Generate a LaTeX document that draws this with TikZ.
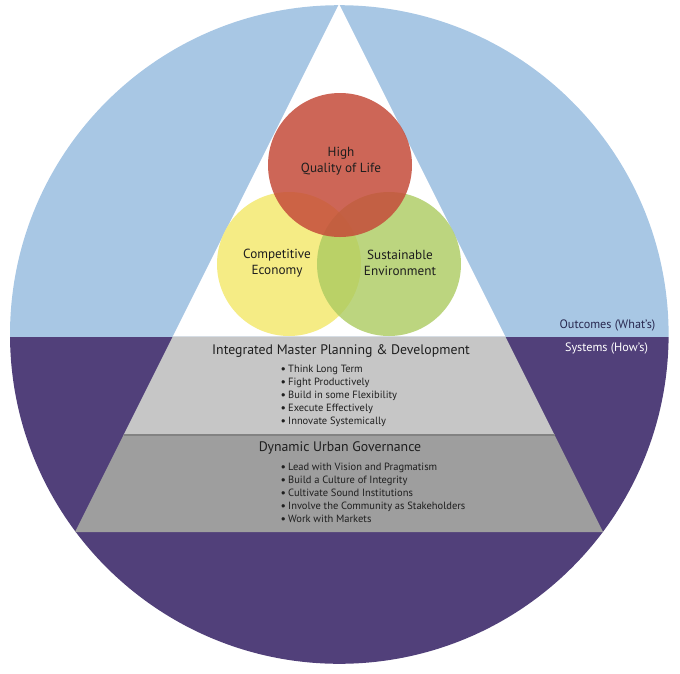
\documentclass[tikz,border=0pt]{standalone}
\usepackage{fontspec}
\setmainfont{PT Sans}
\definecolor{skyblue}{RGB}{168,199,228}
\definecolor{deeppurple}{RGB}{81,64,122}
\definecolor{bandlight}{RGB}{198,198,198}
\definecolor{banddark}{RGB}{158,158,158}
\definecolor{bandline}{RGB}{130,130,130}
\definecolor{redc}{RGB}{197,76,58}
\definecolor{yellowc}{RGB}{245,236,133}
\definecolor{greenc}{RGB}{172,203,96}
\definecolor{inktext}{RGB}{30,30,30}
\definecolor{navytext}{RGB}{40,40,80}
\tikzset{
  venn/.style={circle, minimum size=144pt, inner sep=0pt},
  vlabel/.style={align=center, font=\fontsize{13.2}{16}\selectfont, text=inktext},
  bandhead/.style={font=\fontsize{13.8}{16}\selectfont, text=inktext},
  bulletlist/.style={align=left, anchor=north west, font=\fontsize{10.5}{13}\selectfont, text=inktext, inner sep=0pt},
  sidelabel/.style={font=\fontsize{12.2}{14}\selectfont}
}
\newcommand{\bitem}[1]{\makebox[7pt][l]{\raisebox{0.5pt}{\scalebox{0.8}{$\bullet$}}}#1}
\begin{document}
\begin{tikzpicture}[x=1pt,y=-1pt]
\useasboundingbox (0,0) rectangle (680,673);
% outer circle halves
\begin{scope}
  \clip (339.3,334.5) circle[radius=329.3];
  \fill[skyblue] (0,0) rectangle (680,336.5);
  \fill[deeppurple] (0,336.5) rectangle (680,673);
\end{scope}
% white triangle top
\coordinate (apex) at (339,4);
\fill[white] (apex) -- (172.75,336.5) -- (505.25,336.5) -- cycle;
% bands
\fill[bandlight] (172.75,336.5) -- (505.25,336.5) -- (554.5,435) -- (123.5,435) -- cycle;
\fill[banddark] (123.5,435) -- (554.5,435) -- (603,532) -- (75,532) -- cycle;
\draw[bandline, line width=1.2pt] (123.5,435) -- (554.5,435);
% venn circles
\node[venn, fill=yellowc] (econ) at (289,264) {};
\node[venn, fill=greenc, fill opacity=0.8] (env) at (389,264) {};
\node[venn, fill=redc, fill opacity=0.85] (life) at (340,165) {};
\node[vlabel] (lifet) at (341,161) {High\\Quality of Life};
\node[vlabel] (econt) at (277,263) {Competitive\\Economy};
\node[vlabel] (envt) at (400,263) {Sustainable\\Environment};
% band texts
\node[bandhead] (imp) at (341,351) {Integrated Master Planning \& Development};
\node[bulletlist] (impl) at (281,364.5) {\bitem{Think Long Term}\\\bitem{Fight Productively}\\\bitem{Build in some Flexibility}\\\bitem{Execute Effectively}\\\bitem{Innovate Systemically}};
\node[bandhead] (dug) at (340,448) {Dynamic Urban Governance};
\node[bulletlist] (dugl) at (281,462.5) {\bitem{Lead with Vision and Pragmatism}\\\bitem{Build a Culture of Integrity}\\\bitem{Cultivate Sound Institutions}\\\bitem{Involve the Community as Stakeholders}\\\bitem{Work with Markets}};
% side labels
\node[sidelabel, text=navytext] (outc) at (607.5,325) {Outcomes (What’s)};
\node[sidelabel, text=white] (sys) at (606.5,348) {Systems (How’s)};
\end{tikzpicture}
\end{document}
